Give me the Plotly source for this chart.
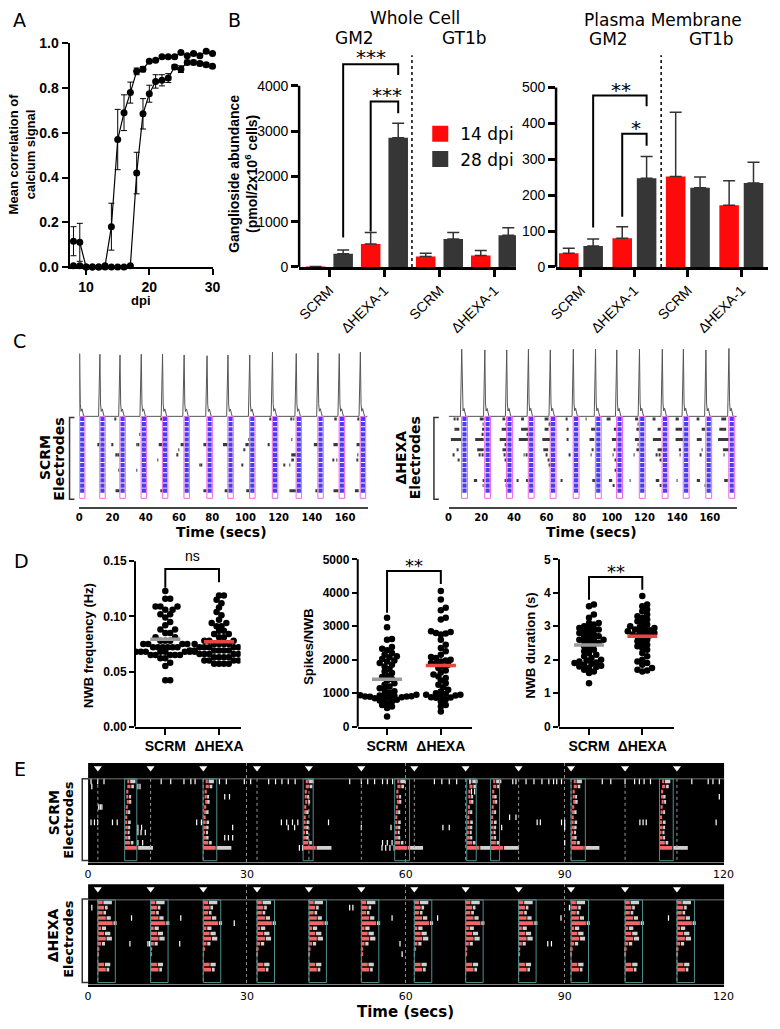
import numpy as np
import plotly.graph_objects as go

W, H = 780, 1029
ARIAL = "Liberation Sans, Arial, sans-serif"
VERD = "DejaVu Sans, Verdana, sans-serif"
RED = "#ff0a0a"
DARK = "#363636"

# ================= DATA =================
# Panel A
A_DPI = list(range(8, 31))
A_EARLY = [0.115, 0.11, 0.0, 0.0, 0.0, 0.005, 0.18, 0.57, 0.69, 0.78, 0.875, 0.885, 0.92,
           0.925, 0.94, 0.94, 0.94, 0.96, 0.945, 0.955, 0.945, 0.965, 0.955]
A_EARLY_ERR = [0.065, 0.085, 0, 0, 0, 0, 0.105, 0.135, 0.08, 0.047, 0.015, 0.012, 0.006,
               0.005, 0.005, 0.005, 0.005, 0.005, 0.005, 0.005, 0.005, 0.005, 0.005]
A_LATE = [0.005, 0.005, 0.0, 0.0, 0.0, 0.0, 0.0, 0.0, 0.0, 0.005, 0.42, 0.685, 0.775,
          0.83, 0.835, 0.845, 0.895, 0.885, 0.915, 0.915, 0.91, 0.905, 0.898]
A_LATE_ERR = [0, 0, 0, 0, 0, 0, 0, 0, 0, 0, 0.093, 0.068, 0.038,
              0.03, 0.025, 0.02, 0.01, 0.015, 0.01, 0.01, 0.01, 0.01, 0.01]

# Panel B
B_GROUPS = ["SCRM", "ΔHEXA-1", "SCRM", "ΔHEXA-1"]
B_WC_14 = [10, 505, 230, 250]
B_WC_14_ERR = [0, 255, 70, 110]
B_WC_28 = [290, 2850, 615, 700]
B_WC_28_ERR = [85, 320, 145, 165]
B_PM_14 = [38, 80, 252, 172]
B_PM_14_ERR = [14, 32, 179, 68]
B_PM_28 = [58, 247, 221, 234]
B_PM_28_ERR = [20, 61, 30, 58]

# Panel C
C_SCRM_BURSTS = [0.1, 12.3, 24.4, 37.2, 50.0, 63.0, 76.8, 89.4, 102.5, 116.2, 130.5, 143.6, 156.4, 169.1]
C_SCRM_PEAKS = [0.87, 0.86, 0.85, 0.86, 0.86, 0.85, 0.84, 0.85, 0.85, 0.89, 0.87, 0.88, 0.87, 0.89]
C_HEXA_BURSTS = [7.95, 22.1, 35.5, 48.8, 62.2, 76.3, 89.9, 102.9, 116.8, 130.8, 143.7, 157.5, 171.6]
C_HEXA_PEAKS = [0.93, 0.92, 0.92, 0.93, 0.92, 0.93, 0.93, 0.92, 0.93, 0.93, 0.93, 0.92, 0.94]
C_SCRM_DARK = {
    0: [(21.6, 22.0), (49.0, 49.4), (114.7, 115.1), (127.6, 128.0), (128.9, 129.3), (154.0, 155.0), (167.6, 168.0)],
    3: [(36.3, 36.7)],
    4: [(101.8, 102.2), (127.8, 128.2)],
    5: [(11.2, 12.3), (19.6, 20.0), (34.5, 34.9), (35.5, 35.9), (47.8, 50.0), (61.0, 63.0), (74.7, 76.5),
        (86.5, 89.2), (100.0, 102.0), (113.4, 114.6), (141.2, 143.4), (153.0, 155.6), (166.9, 168.8)],
    6: [(59.8, 60.2), (99.0, 99.4)],
    7: [(22.0, 22.4), (23.3, 23.7), (58.8, 59.2), (127.6, 130.4), (167.5, 167.9)],
    8: [(47.0, 47.4), (127.6, 129.2), (152.8, 153.2), (154.8, 155.2), (167.0, 167.4)],
    9: [(72.3, 72.7), (73.1, 73.5), (98.0, 98.4), (123.3, 123.7), (126.5, 126.9)],
    10: [(23.5, 23.9), (34.4, 34.8)],
    14: [(21.8, 24.3), (48.8, 50.0), (74.7, 76.6), (87.5, 89.4), (100.5, 102.5), (126.5, 130.4),
         (142.4, 143.4), (153.0, 156.0), (165.9, 168.2)],
}
C_HEXA_DARK = {
    0: [(3.4, 3.8), (5.4, 5.8), (19.1, 21.5), (33.0, 34.7), (44.4, 46.2), (58.8, 61.2), (72.1, 72.5),
        (84.1, 84.5), (96.8, 99.2), (114.2, 116.1), (125.5, 126.7), (139.0, 141.0), (152.4, 153.6), (167.0, 170.0)],
    1: [(21.0, 21.4), (35.0, 35.4), (61.5, 61.9), (115.8, 116.2)],
    2: [(3.6, 6.6), (20.5, 22.0), (32.5, 35.4), (44.4, 48.8), (58.8, 61.2), (72.3, 73.3), (87.3, 89.9),
        (101.2, 102.9), (115.0, 116.8), (128.0, 130.0), (139.0, 143.0), (155.0, 157.0), (165.8, 170.0)],
    3: [(20.5, 21.0), (48.0, 48.4)],
    4: [(1.4, 7.9), (16.3, 21.5), (31.3, 35.4), (43.0, 48.8), (57.4, 62.2), (72.3, 73.3), (86.3, 89.2),
        (100.0, 102.9), (114.1, 116.8), (125.1, 130.1), (139.0, 143.7), (152.0, 155.0), (165.0, 171.6)],
    5: [(34.8, 35.2), (115.9, 116.3)],
    6: [(5.4, 5.8), (17.5, 21.5), (33.0, 35.4), (58.0, 61.0), (88.0, 88.4), (101.5, 101.9), (115.0, 116.8),
        (128.0, 130.8), (141.0, 142.4), (155.0, 155.4), (168.0, 171.6)],
    7: [(3.0, 3.4), (18.5, 19.0), (20.5, 21.0), (34.0, 34.4), (46.0, 46.4), (47.5, 48.0), (60.0, 60.4),
        (74.0, 74.4), (87.0, 87.4), (100.5, 100.9), (113.5, 113.9), (127.0, 127.4), (129.0, 129.4),
        (141.5, 141.9), (154.0, 154.4), (168.5, 168.9)],
    8: [(6.0, 6.4), (34.6, 35.0), (61.0, 61.4), (102.0, 102.4), (129.5, 129.9)],
    9: [(61.5, 62.0)],
    10: [(102.0, 102.4)],
    12: [(15.5, 17.5), (21.3, 21.7), (34.3, 36.5), (42.2, 42.6), (47.4, 48.8), (69.1, 69.5), (88.0, 90.2),
         (98.2, 100.2), (111.0, 111.4), (126.9, 129.0), (139.8, 140.2), (152.0, 154.0), (168.8, 171.0)],
    13: [(21.0, 21.4), (35.0, 35.4), (100.8, 101.2), (129.8, 130.2), (156.8, 157.2)],
}

# Panel D
D_FREQ_SCRM = [0.123, 0.116, 0.116, 0.109, 0.109, 0.109, 0.106, 0.106, 0.102, 0.102, 0.099, 0.095,
               0.092, 0.088, 0.088, 0.085, 0.085, 0.081, 0.081, 0.078, 0.078, 0.078, 0.075, 0.075,
               0.075, 0.075, 0.072, 0.072, 0.072, 0.072, 0.072, 0.072, 0.068, 0.068, 0.068, 0.068,
               0.068, 0.068, 0.068, 0.068, 0.065, 0.065, 0.065, 0.065, 0.065, 0.062, 0.062, 0.058,
               0.055, 0.042, 0.042]
D_FREQ_HEXA = [0.119, 0.119, 0.115, 0.112, 0.108, 0.104, 0.101, 0.097, 0.094, 0.094, 0.091, 0.091,
               0.087, 0.087, 0.084, 0.084, 0.081, 0.081, 0.078, 0.078, 0.078, 0.075, 0.075, 0.075,
               0.075, 0.075, 0.072, 0.072, 0.072, 0.072, 0.072, 0.072, 0.069, 0.069, 0.069, 0.069,
               0.069, 0.069, 0.069, 0.066, 0.066, 0.066, 0.066, 0.066, 0.066, 0.063, 0.063, 0.063,
               0.063, 0.060, 0.060, 0.060, 0.060, 0.057, 0.057, 0.057, 0.057]
D_SPK_SCRM = [3250, 2970, 2620, 2600, 2380, 2330, 2280, 2200, 2150, 2100, 2070, 2020, 1980, 1950,
              1900, 1850, 1800, 1720, 1650, 1600, 1530, 1480, 1420, 1380, 1300, 1250, 1200, 1150,
              1100, 1060, 1020, 980, 960, 940, 930, 920, 910, 900, 890, 870, 850, 820, 780, 750,
              700, 650, 600, 560, 300, 800, 950, 880, 900]
D_SPK_HEXA = [4050, 3800, 3550, 3480, 3250, 3200, 2850, 2830, 2800, 2780, 2750, 2600, 2450, 2350,
              2250, 2150, 2080, 2050, 2000, 1980, 1950, 1900, 1870, 1850, 1800, 1750, 1680, 1620,
              1560, 1500, 1450, 1380, 1300, 1250, 1180, 1100, 1050, 980, 950, 930, 900, 880, 860,
              820, 750, 650, 600, 450, 950, 870, 1000]
D_DUR_SCRM = [3.65, 3.6, 3.35, 3.25, 3.1, 3.05, 2.95, 2.9, 2.85, 2.8, 2.75, 2.7, 2.65, 2.6, 2.6,
              2.55, 2.5, 2.45, 2.4, 2.35, 2.3, 2.25, 2.2, 2.15, 2.1, 2.05, 2.0, 1.98, 1.95, 1.92,
              1.9, 1.88, 1.85, 1.82, 1.8, 1.78, 1.75, 1.7, 1.65, 1.6, 1.3, 2.9, 2.8, 2.7, 2.6, 3.0,
              2.5, 2.95, 3.1]
D_DUR_HEXA = [3.9, 3.65, 3.6, 3.5, 3.45, 3.35, 3.3, 3.25, 3.2, 3.15, 3.1, 3.05, 3.0, 2.98, 2.95,
              2.92, 2.9, 2.88, 2.85, 2.82, 2.8, 2.78, 2.75, 2.72, 2.7, 2.65, 2.6, 2.55, 2.5, 2.45,
              2.4, 2.35, 2.3, 2.2, 2.1, 2.0, 1.95, 1.9, 1.85, 1.75, 1.7, 1.68, 1.65]

# Panel E
E_MARKERS = [1.84, 11.8, 21.75, 31.9, 41.7, 51.6, 61.6, 71.3, 81.3, 91.2, 101.4, 111.2]
E_SCRM_BURST_START = [6.9, 21.7, 40.6, 57.9, 71.5, 76.0, 91.2, 107.9]
E_SCRM_BURST_END = [9.2, 24.3, 42.5, 60.7, 73.3, 77.7, 93.9, 110.5]
E_SCRM_OFF = [0.5, 0.5, 0.3, 0.3, 0.4, 0.2, 0.2, 0.1, 0.1, 0.1, 0.0, 0.0, 0.0, 0.0, 0.0, 0.0]
E_SCRM_RED = [0.4, 0.6, 0.4, 0.4, 0.4, 0.4, 0.4, 0.4, 0.4, 0.5, 0.4, 0.6, 1.0, 2.4, 0.0, 0.0]
E_SCRM_WHITE = [1.0, 0.5, 0.0, 0.3, 0.3, 0.0, 0.3, 0.0, 0.5, 0.3, 0.4, 0.3, 0.5, 2.8, 0.0, 0.0]
E_SCRM_TICKS = {
    0: [0.55, 1.8, 3.0, 13.8, 15.6, 18.1, 19.4, 20.2, 24.8, 26.1, 29.5, 30.7, 34.1, 35.4, 36.6, 37.8,
        39.1, 49.4, 51.6, 52.8, 54.1, 55.6, 56.5, 57.5, 65.4, 66.8, 68.2, 69.6, 72.1, 80.2, 80.8, 82.7,
        84.2, 85.7, 87.0, 87.9, 88.5, 89.4, 97.1, 98.7, 101.4, 103.2, 104.1, 105.0, 106.2, 114.0,
        117.1, 118.0, 119.2],
    1: [0.7, 9.4, 9.8],
    2: [72.4, 73.0],
    3: [25.8, 26.7, 119.2],
    5: [2.0, 2.3, 2.6],
    7: [79.6, 80.8],
    8: [0.55, 1.2, 1.8, 4.6, 5.5, 20.5, 21.4, 36.5, 37.5, 38.6, 39.6, 45.4, 84.8, 85.4, 89.4, 90.0,
        104.2, 104.8, 105.4, 118.6],
    9: [9.4, 10.1, 27.3, 37.8, 39.0, 51.6, 57.2, 67.0, 68.2, 78.1, 90.0],
    10: [9.4, 10.0, 10.8],
    11: [25.8, 26.5, 27.3],
    12: [9.4, 10.3, 55.6, 56.5, 57.4, 90.0],
    13: [39.9, 40.5, 55.5, 56.2, 57.0, 57.8],
}
E_HEXA_BURST_START = [1.84, 11.8, 21.75, 31.9, 41.7, 51.6, 61.6, 71.3, 81.3, 91.2, 101.4, 111.2]
E_HEXA_BURST_LEN = 3.3
E_HEXA_RED = [0.9, 1.2, 0.9, 1.5, 2.8, 0.6, 1.2, 1.5, 0.6, 0.3, 0.15, 0.0, 1.2, 1.5, 0.0, 0.0]
E_HEXA_WHITE = [1.6, 0.5, 0.5, 0.8, 0.6, 0.8, 1.0, 1.0, 0.6, 0.0, 0.0, 0.0, 1.0, 0.5, 0.0, 0.0]
E_HEXA_TICKS = {
    1: [0.7, 49.4, 50.0, 90.9],
    3: [8.2, 17.5, 57.4, 66.0, 89.3, 109.6],
    4: [27.6],
    8: [7.9, 11.3, 11.6, 17.3, 58.9, 86.8, 87.5],
    10: [59.3],
}

# ================= LAYOUT HELPERS =================
traces, shapes, annotations = [], [], []
layout = dict(width=W, height=H, margin=dict(l=0, r=0, t=0, b=0, pad=0),
              paper_bgcolor="white", plot_bgcolor="rgba(0,0,0,0)", barmode="overlay",
              showlegend=True, font=dict(family=ARIAL, color="black"))


def dom_x(a, b):
    return [a / W, b / W]


def dom_y(top, bot):
    return [1 - bot / H, 1 - top / H]


def names(i):
    return ("x" if i == 1 else f"x{i}"), ("y" if i == 1 else f"y{i}")


def add_axes(i, xdom, ydom, xr, yr, xkw=None, ykw=None):
    xa, ya = names(i)
    base = dict(showgrid=False, zeroline=False, showline=False, ticks="",
                showticklabels=False, fixedrange=True)
    xd = dict(base, domain=xdom, range=xr, anchor=ya)
    xd.update(xkw or {})
    yd = dict(base, domain=ydom, range=yr, anchor=xa)
    yd.update(ykw or {})
    layout["xaxis" if i == 1 else f"xaxis{i}"] = xd
    layout["yaxis" if i == 1 else f"yaxis{i}"] = yd
    return xa, ya


def text(s, x, y, size, family=VERD, bold=False, angle=0, xanchor="center", yanchor="middle", color="black"):
    annotations.append(dict(text=s, x=x / W, y=1 - y / H, xref="paper", yref="paper", showarrow=False,
                            font=dict(family=family, size=size, color=color,
                                      weight="bold" if bold else "normal"),
                            textangle=angle, xanchor=xanchor, yanchor=yanchor))


def yline(i, top, width=2.5):
    xa, ya = names(i)
    shapes.append(dict(type="line", xref=f"{xa} domain", yref=ya, x0=0, x1=0, y0=0, y1=top,
                       line=dict(color="black", width=width), layer="above"))


def bracket(i, xl, xr, ytop, yl, yr, width=2):
    xa, ya = names(i)
    shapes.append(dict(type="path", xref=xa, yref=ya,
                       path=f"M {xl},{yl} L {xl},{ytop} L {xr},{ytop} L {xr},{yr}",
                       line=dict(color="black", width=width)))


def side_bracket(x, top, bot, w=5, color="#333", width=1.5):
    shapes.append(dict(type="path", xref="paper", yref="paper",
                       path=(f"M {(x + w) / W},{1 - top / H} L {x / W},{1 - top / H} "
                             f"L {x / W},{1 - bot / H} L {(x + w) / W},{1 - bot / H}"),
                       line=dict(color=color, width=width)))


TICK_AX = dict(ticks="outside", tickcolor="black", showticklabels=True)

# ================= PANEL A =================
xa, ya = add_axes(1, dom_x(63, 210), dom_y(36, 263), [7.38, 30.1], [0, 1.0],
                  xkw=dict(TICK_AX, showline=True, linecolor="black", linewidth=2, ticklen=6, tickwidth=2,
                           tickvals=[10, 20, 30],
                           tickfont=dict(family=ARIAL, size=14, weight="bold", color="black")),
                  ykw=dict(TICK_AX, showline=True, linecolor="black", linewidth=2, ticklen=6, tickwidth=2,
                           tickvals=[0, 0.2, 0.4, 0.6, 0.8, 1.0], tickformat=".1f",
                           tickfont=dict(family=ARIAL, size=14, weight="bold", color="black")))
for yv, ev in ((A_EARLY, A_EARLY_ERR), (A_LATE, A_LATE_ERR)):
    traces.append(go.Scatter(x=A_DPI, y=yv, mode="lines+markers", xaxis=xa, yaxis=ya, showlegend=False,
                             cliponaxis=False,
                             line=dict(color="black", width=1.2),
                             marker=dict(color="black", size=7),
                             error_y=dict(type="data", array=ev, color="black", thickness=1, width=3)))

# ================= PANEL B =================
def bar_panel(i, xdom, yr, ytop, ytickvals, v14, e14, v28, e28, off, bw):
    xa, ya = add_axes(i, xdom, dom_y(40, 263), yr[0], [0, yr[1]],
                      xkw=dict(TICK_AX, showline=True, linecolor="black", linewidth=2.5, ticklen=7,
                               tickwidth=2.5, tickvals=[0, 1, 2, 3], ticktext=B_GROUPS, tickangle=-45,
                               tickfont=dict(family=ARIAL, size=14, color="black")),
                      ykw=dict(TICK_AX, ticklen=7, tickwidth=2.5, tickvals=ytickvals,
                               tickfont=dict(family=ARIAL, size=14, color="black")))
    for vals, errs, col, sign in ((v14, e14, RED, -1), (v28, e28, DARK, 1)):
        traces.append(go.Bar(x=[0, 1, 2, 3], y=vals, width=bw, offset=sign * off - bw / 2,
                             marker=dict(color=col, line=dict(width=0)), xaxis=xa, yaxis=ya,
                             showlegend=False,
                             error_y=dict(type="data", array=errs, arrayminus=[0] * 4, symmetric=False,
                                          color="#333333", thickness=1.5, width=6)))
    yline(i, ytop)
    return xa, ya


xa2, ya2 = bar_panel(2, dom_x(298, 520), ([-0.55, 3.39], 4848), 4000, [0, 1000, 2000, 3000, 4000],
                     B_WC_14, B_WC_14_ERR, B_WC_28, B_WC_28_ERR, 0.25, 0.355)
xa3, ya3 = bar_panel(3, dom_x(561, 778), ([-0.466, 3.5], 612), 500, [0, 100, 200, 300, 400, 500],
                     B_PM_14, B_PM_14_ERR, B_PM_28, B_PM_28_ERR, 0.228, 0.366)
shapes.append(dict(type="line", xref=xa2, yref=ya2, x0=1.5, x1=1.5, y0=0, y1=4674,
                   line=dict(color="black", width=1.5, dash="dot")))
shapes.append(dict(type="line", xref=xa3, yref=ya3, x0=1.5, x1=1.5, y0=0, y1=590,
                   line=dict(color="black", width=1.5, dash="dot")))
bracket(2, 0.25, 1.25, 4478, 652, 4239)
bracket(2, 0.75, 1.25, 3652, 783, 3391)
bracket(3, 0.228, 1.228, 478, 110, 448)
bracket(3, 0.772, 1.228, 371, 140, 338)

# legend entries
for nm, col in (("14 dpi", RED), ("28 dpi", DARK)):
    traces.append(go.Scatter(x=[None], y=[None], mode="markers", name=nm, xaxis=xa2, yaxis=ya2,
                             marker=dict(symbol="square", size=16, color=col), showlegend=True))
layout["legend"] = dict(x=422 / W, y=1 - 110 / H, xanchor="left", yanchor="top",
                        font=dict(family=VERD, size=17, color="black"), itemsizing="trace",
                        bgcolor="rgba(0,0,0,0)", tracegroupgap=0, itemwidth=30)

# ================= PANEL C =================
C_WAVE_SHAPE = [(-0.7, 0.0), (0.1, 1.0), (0.5, 0.2), (0.9, 0.08), (1.5, 0.12), (2.6, 0.0)]


def raster_c(i_tr, i_ras, xdom, xmax, starts, peaks, dark, box_w):
    xt, yt = add_axes(i_tr, xdom, dom_y(340, 417), [0, xmax], [-0.03, 1.02])
    xr_, yr_ = add_axes(i_ras, xdom, dom_y(414, 507), [0, xmax], [17.21, -0.673],
                        xkw=dict(showline=True, linecolor="#444", linewidth=1.5, ticks="",
                                 showticklabels=True, tickvals=list(range(0, 161, 20)),
                                 tickfont=dict(family=VERD, size=10, weight="bold", color="black")))
    wt, wv = [0.0], [0.0]
    for s, h in zip(starts, peaks):
        for dt, f in C_WAVE_SHAPE:
            wt.append(max(0.0, s + dt))
            wv.append(f * h)
    wt.append(xmax)
    wv.append(0.0)
    traces.append(go.Scatter(x=wt, y=wv, mode="lines", line=dict(color="#555", width=1),
                             xaxis=xt, yaxis=yt, showlegend=False))
    rows, base, length = [], [], []
    for r, segs in dark.items():
        for a, b in segs:
            rows.append(r)
            base.append(a)
            length.append(b - a)
    traces.append(go.Bar(orientation="h", y=rows, x=length, base=base, width=0.6,
                         marker=dict(color="#3a3a3a", line=dict(width=0)),
                         xaxis=xr_, yaxis=yr_, showlegend=False))
    bx, by = [], []
    for s in starts:
        for r in range(15):
            bx.append(s + box_w / 2)
            by.append(r)
    traces.append(go.Scatter(x=bx, y=by, mode="markers", xaxis=xr_, yaxis=yr_, showlegend=False,
                             marker=dict(symbol="square", size=4.2, color="#4a3ff0", line=dict(width=0))))
    for s in starts:
        shapes.append(dict(type="rect", xref=xr_, yref=yr_, x0=s, x1=s + box_w, y0=-0.5, y1=15.5,
                           line=dict(color="#ee66ee", width=1), fillcolor="rgba(0,0,0,0)"))


raster_c(4, 5, dom_x(73, 368), 173.5, C_SCRM_BURSTS, C_SCRM_PEAKS, C_SCRM_DARK, 3.3)
raster_c(6, 7, dom_x(451, 746), 176.5, C_HEXA_BURSTS, C_HEXA_PEAKS, C_HEXA_DARK, 3.6)

# ================= PANEL D =================
def swarm(vals, ypx, xpx, d=5.0):
    vals = np.asarray(vals, float)
    order = np.argsort(vals)
    placed = []
    offs = np.zeros(len(vals))
    cands = [0.0]
    for j in range(1, 40):
        cands += [j * d * 0.5, -j * d * 0.5]
    for i in order:
        y = vals[i] * ypx
        c = 0.0
        for c in cands:
            if all((c - px) ** 2 + (y - py) ** 2 >= 0.85 * d * d for px, py in placed):
                break
        placed.append((c, y))
        offs[i] = c / xpx
    return offs


def dot_panel(i, xdom, xr, ymax, ypx, yticks, ytext, ytop, a, b):
    xa, ya = add_axes(i, xdom, dom_y(548, 730), xr, [0, ymax],
                      xkw=dict(TICK_AX, showline=True, linecolor="black", linewidth=2, ticklen=6,
                               tickwidth=2, tickvals=[0, 1], ticktext=["SCRM", "ΔHEXA"],
                               tickfont=dict(family=ARIAL, size=14, weight="bold", color="black")),
                      ykw=dict(TICK_AX, ticklen=5, tickwidth=2, tickvals=yticks, ticktext=ytext,
                               tickfont=dict(family=ARIAL, size=12, weight="bold", color="black")))
    yline(i, ytop, width=2)
    for k, (vals, col) in enumerate(((a, "#9a9a9a"), (b, "#e8463f"))):
        offs = swarm(vals, ypx, 55.0)
        traces.append(go.Scatter(x=k + offs, y=vals, mode="markers", xaxis=xa, yaxis=ya, showlegend=False,
                                 marker=dict(color="black", size=6.5, line=dict(width=0))))
        m = float(np.mean(vals))
        traces.append(go.Scatter(x=[k - 0.28, k + 0.28], y=[m, m], mode="lines", xaxis=xa, yaxis=ya,
                                 showlegend=False, line=dict(color=col, width=3.5)))
    return xa, ya


dot_panel(8, dom_x(130, 238), [-0.564, 1.4], 0.1625, 1120, [0, 0.05, 0.10, 0.15],
          ["0.00", "0.05", "0.10", "0.15"], 0.15, D_FREQ_SCRM, D_FREQ_HEXA)
dot_panel(9, dom_x(358, 475), [-0.545, 1.58], 5353, 0.034, [0, 1000, 2000, 3000, 4000, 5000],
          ["0", "1000", "2000", "3000", "4000", "5000"], 5000, D_SPK_SCRM, D_SPK_HEXA)
dot_panel(10, dom_x(564, 682), [-0.564, 1.6], 5.353, 34, [0, 1, 2, 3, 4, 5],
          ["0", "1", "2", "3", "4", "5"], 5, D_DUR_SCRM, D_DUR_HEXA)
bracket(8, 0, 1, 0.1429, 0.126, 0.131)
bracket(9, 0, 1, 4647, 3400, 4265)
bracket(10, 0, 1, 4.47, 3.79, 4.09)

# ================= PANEL E =================
def raster_e(i, top, bot, yr, starts, ends, off, red, white, ticks):
    xa, ya = add_axes(i, dom_x(82, 733), dom_y(top, bot), [0, 120.1], yr,
                      xkw=dict(showline=True, linecolor="black", linewidth=2, showticklabels=True,
                               tickvals=[0, 30, 60, 90, 120], showgrid=True, gridcolor="#8a8a8a",
                               griddash="dot", gridwidth=1,
                               tickfont=dict(family=VERD, size=11, color="black")))
    shapes.append(dict(type="rect", xref=f"{xa} domain", yref=f"{ya} domain", x0=0, x1=1, y0=0, y1=1,
                       fillcolor="black", line=dict(width=0), layer="below"))
    shapes.append(dict(type="line", xref=f"{xa} domain", yref=ya, x0=0, x1=1, y0=-0.5, y1=-0.5,
                       line=dict(color="#777", width=1)))
    for t in E_MARKERS:
        shapes.append(dict(type="line", xref=xa, yref=ya, x0=t, x1=t, y0=-0.5, y1=15.5,
                           line=dict(color="#9a9a9a", width=1, dash="dot")))
    for s, e in zip(starts, ends):
        shapes.append(dict(type="rect", xref=xa, yref=ya, x0=s, x1=e, y0=-0.5, y1=15.5,
                           line=dict(color="#4f9090", width=1), fillcolor="rgba(0,0,0,0)"))
    rr, rb, rl, wr, wb, wl = [], [], [], [], [], []
    for s in starts:
        for r in range(16):
            if red[r] > 0:
                rr.append(r)
                rb.append(s + off[r])
                rl.append(red[r])
            if white[r] > 0:
                wr.append(r)
                wb.append(s + off[r] + red[r] + 0.15)
                wl.append(white[r])
    traces.append(go.Bar(orientation="h", y=wr, x=wl, base=wb, width=0.7, xaxis=xa, yaxis=ya,
                         marker=dict(color="#d0d0d0", line=dict(width=0)), showlegend=False))
    traces.append(go.Bar(orientation="h", y=rr, x=rl, base=rb, width=0.7, xaxis=xa, yaxis=ya,
                         marker=dict(color="#f26666", line=dict(width=0)), showlegend=False))
    tx, ty = [], []
    for r, ts in ticks.items():
        for t in ts:
            tx.append(t)
            ty.append(r)
    traces.append(go.Scatter(x=tx, y=ty, mode="markers", xaxis=xa, yaxis=ya, showlegend=False,
                             marker=dict(symbol="line-ns", size=4, line=dict(color="white", width=1.2))))
    traces.append(go.Scatter(x=E_MARKERS, y=[-2.6] * len(E_MARKERS), mode="markers", xaxis=xa, yaxis=ya,
                             showlegend=False,
                             marker=dict(symbol="triangle-down", size=7, color="white", line=dict(width=0))))


raster_e(11, 767, 868, [15.85, -3.58], E_SCRM_BURST_START, E_SCRM_BURST_END,
         E_SCRM_OFF, E_SCRM_RED, E_SCRM_WHITE, E_SCRM_TICKS)
raster_e(12, 890, 992, [15.89, -3.54], E_HEXA_BURST_START,
         [s + E_HEXA_BURST_LEN for s in E_HEXA_BURST_START],
         [0.0] * 16, E_HEXA_RED, E_HEXA_WHITE, E_HEXA_TICKS)

# ================= TEXT =================
for lab, x, y in (("A", 12, 12), ("B", 232, 12), ("C", 12, 338), ("D", 14, 562), ("E", 12, 773)):
    text(lab, x, y, 19)
text("Mean correlation of<br>calcium signal", 14, 148, 13, family=ARIAL, bold=True, angle=-90)
text("dpi", 136, 297, 13, family=ARIAL, bold=True)
text("Ganglioside abundance<br>(pmol/2x10<sup>6</sup> cells)", 241, 168, 14, family=ARIAL, bold=True, angle=-90)
text("Whole Cell", 417, 10, 17)
text("GM2", 355, 30, 17)
text("GT1b", 467, 30, 17)
text("Plasma Membrane", 670, 12, 17)
text("GM2", 615, 31, 17)
text("GT1b", 720, 31, 17)
text("***", 372, 50, 20)
text("***", 388, 88, 20)
text("**", 627, 83, 20)
text("*", 643, 122, 20)

text("SCRM", 38, 457, 14, bold=True, angle=-90)
text("Electrodes", 52, 458, 14, bold=True, angle=-90)
text("ΔHEXA", 402, 457, 14, bold=True, angle=-90)
text("Electrodes", 416, 457, 14, bold=True, angle=-90)
text("Time (secs)", 219, 532, 14, bold=True)
text("Time (secs)", 597, 532, 14, bold=True)
side_bracket(63, 416, 499)
side_bracket(436, 416, 499)

text("NWB frequency (Hz)", 83, 648, 13, family=ARIAL, bold=True, angle=-90)
text("Spikes/NWB", 308, 648, 13, family=ARIAL, bold=True, angle=-90)
text("NWB duration (s)", 535, 648, 13, family=ARIAL, bold=True, angle=-90)
text("ns", 189, 557, 14, family=ARIAL)
text("**", 416, 566, 18)
text("**", 622, 572, 18)

text("SCRM", 47, 817, 14, bold=True, angle=-90)
text("Electrodes", 62, 825, 13, bold=True, angle=-90)
text("ΔHEXA", 46, 942, 14, bold=True, angle=-90)
text("Electrodes", 62, 946, 13, bold=True, angle=-90)
text("Time (secs)", 407, 1020, 15, bold=True)
side_bracket(76, 783, 866, w=6)
side_bracket(76, 905, 990, w=6)

layout["shapes"] = shapes
layout["annotations"] = annotations
fig = go.Figure(data=traces, layout=layout)
fig.write_html("out.html", config={"displayModeBar": False},
               post_script="document.body.style.margin='0';document.body.style.padding='0';")
